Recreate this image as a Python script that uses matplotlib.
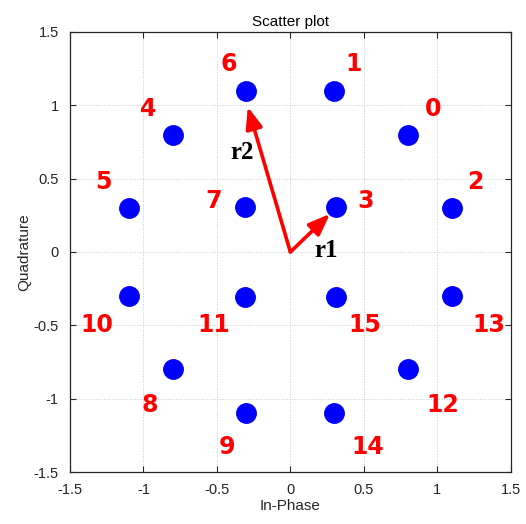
import matplotlib
matplotlib.use("Agg")
import matplotlib.pyplot as plt

# Constellation points (16-APSK)
pts_i = [0.80, 0.30, 1.10, 0.31, -0.80, -1.10, -0.30, -0.31,
         -0.80, -0.30, -1.10, -0.31, 0.80, 1.10, 0.30, 0.31]
pts_q = [0.80, 1.10, 0.30, 0.31, 0.80, 0.30, 1.10, 0.31,
         -0.80, -1.10, -0.30, -0.31, -0.80, -0.30, -1.10, -0.31]

# Symbol labels and their positions
labels = [str(k) for k in range(16)]
lab_x = [0.97, 0.43, 1.26, 0.51, -0.97, -1.27, -0.42, -0.52,
         -0.96, -0.43, -1.32, -0.52, 1.04, 1.35, 0.53, 0.51]
lab_y = [0.975, 1.28, 0.48, 0.35, 0.975, 0.48, 1.28, 0.35,
         -1.04, -1.33, -0.50, -0.50, -1.04, -0.50, -1.33, -0.50]

# Radius vectors
arrow_names = ["r1", "r2"]
arrow_tips = [(0.27, 0.26), (-0.29, 0.99)]
arrow_text = [(0.245, 0.01), (-0.33, 0.68)]

ticks = [-1.5, -1, -0.5, 0, 0.5, 1, 1.5]
tick_labels = ["-1.5", "-1", "-0.5", "0", "0.5", "1", "1.5"]

fig = plt.figure(figsize=(5.26, 5.24), dpi=100)
ax = fig.add_axes([0.133, 0.0992, 0.838, 0.8398])

ax.plot(pts_i, pts_q, 'o', color='#0000ff', markersize=14, zorder=3, linestyle='none')

for t, x, y in zip(labels, lab_x, lab_y):
    ax.text(x, y, t, color='#ff0000', fontsize=17, fontweight='bold',
            family='DejaVu Sans', ha='center', va='center', zorder=4)

for name, tip, tp in zip(arrow_names, arrow_tips, arrow_text):
    ax.annotate('', xy=tip, xytext=(0, 0),
                arrowprops=dict(arrowstyle='-|>,head_length=1.3,head_width=0.5',
                                color='#ff0000', lw=2.6, shrinkA=0, shrinkB=0),
                zorder=4)
    ax.text(tp[0], tp[1], name, color='black', fontsize=18, fontweight='bold',
            family='Liberation Serif', ha='center', va='center', zorder=5)

ax.set_xlim(-1.5, 1.5)
ax.set_ylim(-1.5, 1.5)
ax.set_xticks(ticks)
ax.set_xticklabels(tick_labels)
ax.set_yticks(ticks)
ax.set_yticklabels(tick_labels)
ax.tick_params(direction='in', top=True, right=True, length=4, width=0.8,
               colors='#262626', labelsize=10.5, pad=8)
for lab in ax.get_xticklabels() + ax.get_yticklabels():
    lab.set_family('Liberation Sans')
ax.grid(True, linestyle=':', color='#c8c8c8', linewidth=0.7)
ax.set_axisbelow(True)
for s in ax.spines.values():
    s.set_color('#262626')
    s.set_linewidth(0.9)

ax.set_title('Scatter plot', fontsize=11, family='Liberation Sans', color='black', pad=4)
ax.set_xlabel('In-Phase', fontsize=11, family='Liberation Sans', color='#262626', labelpad=1)
ax.set_ylabel('Quadrature', fontsize=11, family='Liberation Sans', color='#262626', labelpad=2)

fig.savefig('out.png', dpi=100)
